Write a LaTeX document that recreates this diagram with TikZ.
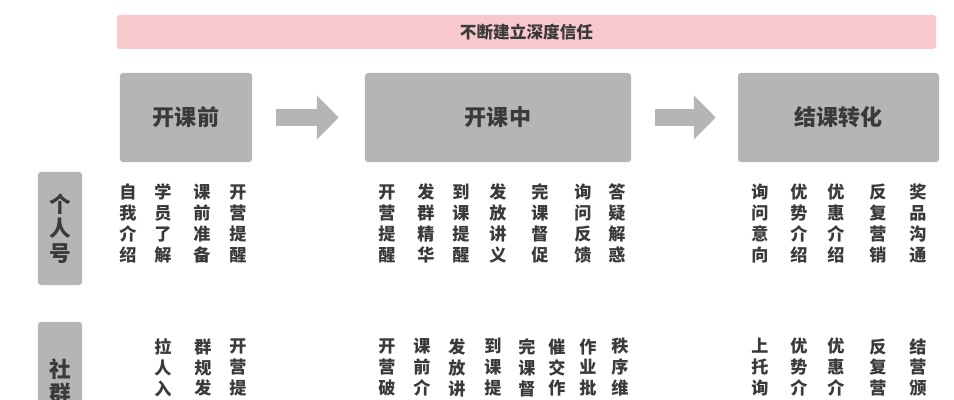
\documentclass[tikz,border=0pt]{standalone}
\usepackage{fontspec}
\usepackage{xcolor}
\usepackage{tikz}
\usetikzlibrary{arrows.meta}
\setmainfont{Noto Sans CJK SC}
\definecolor{boxgray}{HTML}{B5B5B5}
\definecolor{bannerpink}{HTML}{F8C9CC}
\definecolor{txtgray}{HTML}{3A3A3A}

\begin{document}
\begin{tikzpicture}[
    x=0.03cm, y=-0.03cm,
    banner/.style={rectangle, fill=bannerpink, rounded corners=2.5pt, minimum width=24.57cm, minimum height=1.02cm, text=txtgray, font=\bfseries\fontsize{14.2}{16}\selectfont},
    stage/.style={rectangle, fill=boxgray, rounded corners=2.5pt, minimum height=2.67cm, text=txtgray, font=\bfseries\fontsize{18.8}{22}\selectfont},
    side/.style={rectangle, fill=boxgray, rounded corners=2.5pt, minimum width=1.32cm, align=center, text=txtgray, font=\bfseries\fontsize{18.5}{20.9}\selectfont},
    item/.style={align=center, inner sep=0pt, text=txtgray, font=\bfseries\fontsize{14.6}{17.9}\selectfont},
    flow/.style={draw=boxgray, line width=0.51cm, -{Triangle[length=0.66cm, width=1.29cm]}}
]
    \clip (0,0) rectangle (954,400);

    % top banner and the three stages
    \node [banner] (trust) at (526.5,32) {不断建立深度信任};
    \node [stage, minimum width=3.96cm] (pre) at (186,117.5) {开课前};
    \node [stage, minimum width=7.98cm] (mid) at (498,117.5) {开课中};
    \node [stage, minimum width=6.03cm] (post) at (838.5,117.5) {结课转化};

    \draw [flow, shorten <=0.72cm, shorten >=0.78cm] (pre) -- (mid);
    \draw [flow, shorten <=0.72cm, shorten >=0.66cm] (mid) -- (post);

    % row labels
    \node [side, minimum height=3.39cm] (own) at (60,228.5) {个\\人\\号};
    \node [side, minimum height=3.54cm] (group) at (60,381) {社\\群};

    % personal account
    \node [item] (p1) at (128,223.5) {自\\我\\介\\绍};
    \node [item] (p2) at (163,223.5) {学\\员\\了\\解};
    \node [item] (p3) at (202,223.5) {课\\前\\准\\备};
    \node [item] (p4) at (238,223.5) {开\\营\\提\\醒};
    \node [item] (p5) at (387,223.5) {开\\营\\提\\醒};
    \node [item] (p6) at (426,223.5) {发\\群\\精\\华};
    \node [item] (p7) at (461,223.5) {到\\课\\提\\醒};
    \node [item] (p8) at (498,223.5) {发\\放\\讲\\义};
    \node [item] (p9) at (540,223.5) {完\\课\\督\\促};
    \node [item] (p10) at (583,223.5) {询\\问\\反\\馈};
    \node [item] (p11) at (617,223.5) {答\\疑\\解\\惑};
    \node [item] (p12) at (760,223.5) {询\\问\\意\\向};
    \node [item] (p13) at (799,223.5) {优\\势\\介\\绍};
    \node [item] (p14) at (836,223.5) {优\\惠\\介\\绍};
    \node [item] (p15) at (878,223.5) {反\\复\\营\\销};
    \node [item] (p16) at (918,223.5) {奖\\品\\沟\\通};

    % community
    \node [item] (g1) at (163,367.5) {拉\\人\\入};
    \node [item] (g2) at (203,367.5) {群\\规\\发};
    \node [item] (g3) at (238,367.5) {开\\营\\提};
    \node [item] (g4) at (387,367.5) {开\\营\\破};
    \node [item] (g5) at (422,367.5) {课\\前\\介};
    \node [item] (g6) at (457,367.5) {发\\放\\讲};
    \node [item] (g7) at (493,367.5) {到\\课\\提};
    \node [item] (g8) at (527,367.5) {完\\课\\督};
    \node [item] (g9) at (557,367.5) {催\\交\\作};
    \node [item] (g10) at (588,367.5) {作\\业\\批};
    \node [item] (g11) at (620,367.5) {秩\\序\\维};
    \node [item] (g12) at (760,367.5) {上\\托\\询};
    \node [item] (g13) at (799,367.5) {优\\势\\介};
    \node [item] (g14) at (836,367.5) {优\\惠\\介};
    \node [item] (g15) at (878,367.5) {反\\复\\营};
    \node [item] (g16) at (918,367.5) {结\\营\\颁};
\end{tikzpicture}
\end{document}
